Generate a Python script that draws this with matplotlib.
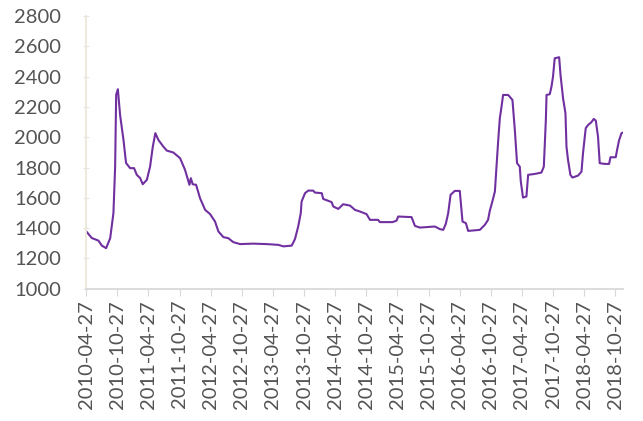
import pandas as pd
import matplotlib
matplotlib.use("Agg")
import matplotlib.pyplot as plt
import matplotlib.dates as mdates

# series (weekly-ish price line)
dates = [
    "2010-04-27", "2010-05-30", "2010-07-08", "2010-07-28", "2010-08-22", "2010-09-15",
    "2010-10-04", "2010-10-14", "2010-10-20", "2010-10-30", "2010-11-12", "2010-12-02",
    "2010-12-17", "2011-01-10", "2011-02-02", "2011-02-18", "2011-03-10", "2011-03-25",
    "2011-04-18", "2011-05-07", "2011-05-23", "2011-06-07", "2011-06-25", "2011-07-24",
    "2011-08-13", "2011-09-21", "2011-10-30", "2011-11-28", "2011-12-24", "2012-01-01",
    "2012-01-12", "2012-02-01", "2012-02-24", "2012-03-25", "2012-04-23", "2012-05-22",
    "2012-06-11", "2012-07-10", "2012-08-08", "2012-09-06", "2012-10-16", "2013-01-02",
    "2013-03-21", "2013-05-28", "2013-06-27", "2013-08-15", "2013-09-03", "2013-09-22",
    "2013-10-07", "2013-10-12", "2013-11-01", "2013-11-20", "2013-12-19", "2013-12-29",
    "2014-02-07", "2014-02-16", "2014-04-06", "2014-04-16", "2014-05-15", "2014-06-13",
    "2014-07-23", "2014-08-21", "2014-09-19", "2014-10-28", "2014-11-17", "2015-01-04",
    "2015-01-14", "2015-03-30", "2015-04-22", "2015-05-02", "2015-07-19", "2015-08-08",
    "2015-09-06", "2015-12-03", "2016-01-01", "2016-01-21", "2016-02-05", "2016-02-19",
    "2016-03-04", "2016-03-29", "2016-04-27", "2016-05-13", "2016-06-02", "2016-06-15",
    "2016-08-23", "2016-09-21", "2016-10-10", "2016-10-20", "2016-11-05", "2016-11-19",
    "2016-11-29", "2016-12-08", "2016-12-18", "2016-12-28", "2017-01-06", "2017-02-05",
    "2017-03-02", "2017-03-16", "2017-03-29", "2017-04-14", "2017-04-20", "2017-05-03",
    "2017-05-23", "2017-06-02", "2017-07-11", "2017-08-19", "2017-09-02", "2017-09-14",
    "2017-09-18", "2017-10-07", "2017-10-17", "2017-10-26", "2017-11-05", "2017-12-01",
    "2017-12-09", "2017-12-24", "2018-01-07", "2018-01-13", "2018-01-22", "2018-02-05",
    "2018-02-17", "2018-03-22", "2018-04-11", "2018-04-20", "2018-05-06", "2018-05-20",
    "2018-06-08", "2018-06-22", "2018-07-04", "2018-07-17", "2018-07-27", "2018-08-25",
    "2018-09-20", "2018-09-28", "2018-10-29", "2018-11-06", "2018-11-18", "2018-12-02",
    "2018-12-11",
]
values = [
    1380, 1335, 1318, 1285, 1268, 1334,
    1500, 1806, 2280, 2317, 2147, 1982,
    1830, 1796, 1796, 1752, 1730, 1690,
    1719, 1806, 1938, 2027, 1982, 1938,
    1912, 1899, 1862, 1785, 1686, 1730,
    1690, 1686, 1598, 1521, 1493, 1444,
    1378, 1341, 1334, 1308, 1295, 1298,
    1295, 1290, 1280, 1285, 1328, 1411,
    1499, 1576, 1631, 1648, 1648, 1635,
    1631, 1593, 1572, 1543, 1527, 1558,
    1549, 1521, 1510, 1493, 1455, 1455,
    1440, 1440, 1450, 1477, 1473, 1415,
    1404, 1411, 1394, 1389, 1429, 1499,
    1620, 1646, 1646, 1444, 1433, 1382,
    1389, 1422, 1455, 1514, 1580, 1642,
    1818, 1971, 2126, 2202, 2279, 2279,
    2246, 2048, 1829, 1806, 1708, 1602,
    1609, 1752, 1758, 1767, 1806, 2114,
    2279, 2284, 2334, 2400, 2521, 2528,
    2411, 2257, 2158, 1938, 1851, 1752,
    1734, 1747, 1773, 1895, 2060, 2081,
    2099, 2121, 2110, 2004, 1829, 1824,
    1824, 1868, 1868, 1917, 1982, 2027,
    2031,
]
tick_labels = pd.date_range("2010-04-27", "2018-10-27", freq=pd.DateOffset(months=6))
y_ticks = list(range(1000, 2801, 200))

x = pd.to_datetime(dates)

plt.rcParams["font.family"] = ["Lato", "DejaVu Sans"]

fig = plt.figure(figsize=(6.43, 4.21), dpi=100)
ax = fig.add_axes([0.134, 0.314, 0.835, 0.648])

ax.plot(x, values, color="#7030A0", lw=1.5)

ax.set_ylim(1000, 2800)
ax.set_yticks(y_ticks)
ax.set_xlim(x[0], x[-1])
ax.set_xticks(tick_labels)
ax.xaxis.set_major_formatter(mdates.DateFormatter("%Y-%m-%d"))

for s in ["top", "right"]:
    ax.spines[s].set_visible(False)
ax.spines["left"].set_color("#EAE7DA")
ax.spines["left"].set_linewidth(1.3)
ax.spines["bottom"].set_color("#D9D9D9")
ax.spines["bottom"].set_linewidth(1.3)

ax.tick_params(axis="y", direction="inout", length=5, color="#EAE7DA",
               labelsize=14.5, labelcolor="#545454", pad=15.5)
ax.tick_params(axis="x", direction="out", length=5, color="#D9D9D9",
               labelsize=14.5, labelcolor="#545454", pad=3, labelrotation=90)

fig.savefig("out.png", dpi=100)
